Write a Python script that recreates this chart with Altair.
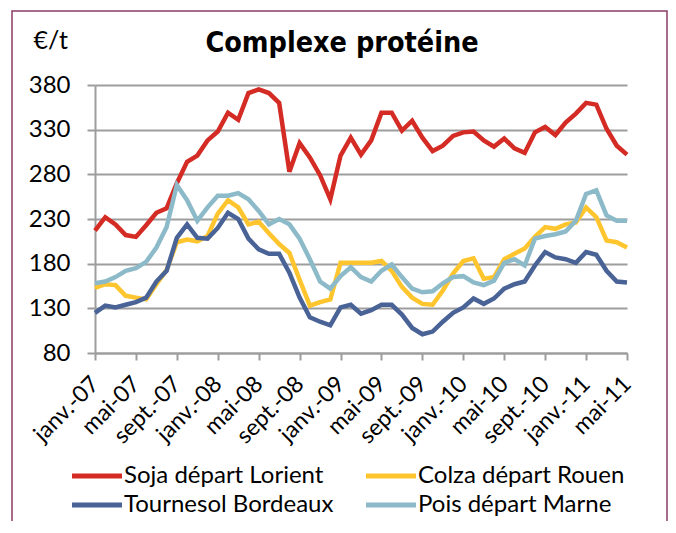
import altair as alt
import pandas as pd

mois = ["janv.", "févr.", "mars", "avr.", "mai", "juin", "juil.", "août", "sept.", "oct.", "nov.", "déc."]
annees = ["07", "08", "09", "10", "11"]
labels = [f"{m}-{a}" for a in annees for m in mois][:53]

soja = [217, 232, 224, 212, 210, 223, 237, 242, 270, 294, 301, 318, 328, 349, 341, 371, 375, 371, 360, 283,
        315, 299, 279, 252, 301, 321, 302, 318, 349, 349, 329, 340, 321, 306, 312, 323, 327, 328, 318, 311,
        320, 309, 304, 327, 333, 324, 338, 348, 360, 358, 331, 312, 302]
colza = [153, 157, 156, 144, 142, 140, 157, 173, 204, 207, 205, 211, 236, 251, 243, 224, 227, 214, 202, 192,
         162, 133, 137, 140, 181, 181, 181, 181, 183, 172, 154, 142, 135, 134, 150, 169, 183, 186, 163, 165,
         185, 191, 197, 210, 221, 219, 224, 226, 243, 232, 206, 204, 198]
tournesol = [125, 133, 131, 134, 137, 142, 160, 172, 209, 224, 209, 208, 220, 237, 230, 208, 196, 191, 191, 170,
             142, 120, 115, 111, 131, 134, 124, 128, 134, 134, 123, 108, 101, 104, 115, 125, 131, 141, 135, 141,
             152, 157, 160, 178, 193, 187, 185, 181, 193, 190, 172, 160, 159]
pois = [158, 160, 165, 172, 175, 182, 198, 221, 268, 251, 228, 243, 256, 256, 259, 252, 239, 224, 230, 224,
        208, 185, 160, 152, 166, 176, 165, 160, 172, 179, 165, 152, 148, 149, 158, 165, 166, 159, 156, 161,
        181, 185, 178, 208, 211, 213, 216, 228, 258, 262, 234, 228, 228]

series = ["Soja départ Lorient", "Colza départ Rouen", "Tournesol Bordeaux", "Pois départ Marne"]
colors = ["#d42b24", "#fec52e", "#4a6396", "#8dbac9"]
# legend is filled column by column: order so that rows read Soja/Colza, Tournesol/Pois
legend_order = [series[0], series[2], series[1], series[3]]
legend_colors = [colors[0], colors[2], colors[1], colors[3]]
y_ticks = [80, 130, 180, 230, 280, 330, 380]
titre = "Complexe protéine"

rows = []
for name, vals in zip(series, [soja, colza, tournesol, pois]):
    for lab, v in zip(labels, vals):
        rows.append({"mois": lab, "serie": name, "valeur": v})
df = pd.DataFrame(rows)

FONT = "Lato"
GREY = "#9d9d9d"

lines = alt.Chart(df).mark_line(strokeWidth=4.5).encode(
    x=alt.X("mois:O", sort=labels,
            scale=alt.Scale(type="point", padding=0),
            axis=alt.Axis(values=labels[::4], title=None, grid=False,
                          domainColor=GREY, domainWidth=2,
                          tickColor=GREY, tickWidth=2, tickSize=7,
                          labelAngle=-45, labelAlign="right", labelBaseline="middle",
                          labelFont=FONT, labelFontSize=23, labelColor="black",
                          labelPadding=20)),
    y=alt.Y("valeur:Q",
            scale=alt.Scale(domain=[80, 380], nice=False, zero=False),
            axis=alt.Axis(values=y_ticks, title="€/t", grid=True, gridColor=GREY, gridWidth=2,
                          domainColor=GREY, domainWidth=2,
                          tickColor=GREY, tickWidth=2, tickSize=8,
                          labelFont=FONT, labelFontSize=24, labelColor="black", labelPadding=17,
                          titleAngle=0, titleAlign="left", titleBaseline="alphabetic",
                          titleX=-62, titleY=-37, titleFont=FONT, titleFontSize=25,
                          titleFontWeight="normal", titleColor="black")),
    color=alt.Color("serie:N", sort=legend_order,
                    scale=alt.Scale(domain=legend_order, range=legend_colors),
                    legend=alt.Legend(title=None, orient="none", legendX=-10, legendY=379,
                                      columns=2, symbolType="M-5,0H5", symbolSize=100,
                                      symbolStrokeWidth=5, labelFont=FONT, labelFontSize=24,
                                      labelColor="black", labelLimit=400, labelOffset=15,
                                      rowPadding=5, columnPadding=22, padding=0)),
)

title_mark = alt.Chart(alt.Data(values=[{}])).mark_text(
    text=titre, font="DejaVu Sans Condensed, Roboto, sans-serif",
    fontSize=28.5, fontWeight="bold", color="black", align="center", baseline="alphabetic"
).encode(x=alt.value(247), y=alt.value(-33))

frame = alt.Chart(alt.Data(values=[{}])).mark_rect(
    fill=None, stroke="#8c3c66", strokeWidth=1.5
).encode(x=alt.value(-83), x2=alt.value(572), y=alt.value(-74), y2=alt.value(470))

chart = alt.layer(frame, lines, title_mark).properties(
    width=532, height=268,
    padding={"left": 87, "top": 77, "right": 41, "bottom": 168},
    autosize=alt.AutoSizeParams(type="none"),
    background="white",
).configure_view(stroke=None)

chart.save("out.html", embed_options={"renderer": "svg", "actions": False})
